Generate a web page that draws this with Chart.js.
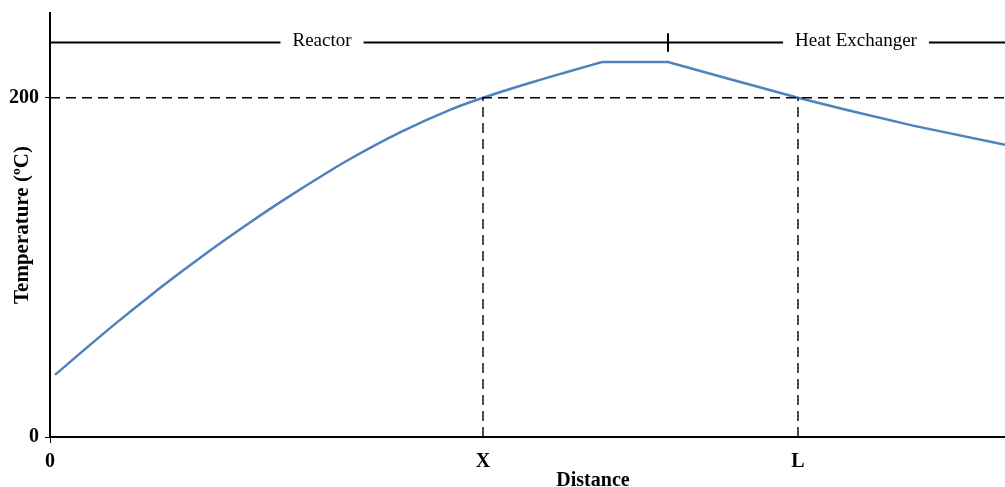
<!DOCTYPE html>
<html>
<head>
<meta charset="utf-8">
<script src="https://cdn.jsdelivr.net/npm/chart.js@4"></script>
<style>
  body { margin: 0; background: #fff; }
  #wrap { width: 1005px; height: 487px; position: relative; }
</style>
</head>
<body>
<div id="wrap"><canvas id="tempChart"></canvas></div>
<script>
// distance (arbitrary units) vs temperature (ºC)
const distance    = [5, 33, 67, 100, 133, 167, 200, 233, 283, 300, 350, 400, 433, 483, 517, 552, 618, 683, 748, 797, 863, 955];
const temperature = [36.6, 50.8, 67.6, 83.2, 98.1, 112.9, 126.5, 139.5, 158.0, 163.9, 179.6, 192.9, 200, 209.3, 215.2, 221.1, 221.1, 210.5, 200, 192.8, 183.6, 172.3];
const peakIndex = 15; // start of the flat top

const xMax = 955;
const yMax = 250;
const xTickValues = [0, 433, 748];
const xTickLabels = ['0', 'X', 'L'];
const yTickValues = [0, 200];
const refTemp = 200;

// section bar along the top
const sectionY = 232.6;
const sectionDivide = 618;
const sectionLabels = ['Reactor', 'Heat Exchanger'];
const sectionCenters = [272, 806];

const serif = '"Liberation Serif", "Times New Roman", serif';

function seg(x1, y1, x2, y2) {
    return [{ x: x1, y: y1 }, { x: x2, y: y2 }];
}

const points = distance.map((d, i) => ({ x: d, y: temperature[i] }));

const dashStyle = { borderColor: '#000', borderWidth: 1.4, borderDash: [10, 6], pointRadius: 0, fill: false, tension: 0 };
const solidStyle = { borderColor: '#000', borderWidth: 2, pointRadius: 0, fill: false, tension: 0 };
const curveStyle = { borderColor: '#4f81bd', borderWidth: 2.5, pointRadius: 0, fill: false };

// texte du haut + titre de l'axe x
const labelsPlugin = {
    id: 'labelsPlugin',
    afterDatasetsDraw(chart) {
        const ctx = chart.ctx;
        const xs = chart.scales.x, ys = chart.scales.y;
        ctx.save();
        ctx.font = '19px ' + serif;
        ctx.textAlign = 'center';
        ctx.textBaseline = 'middle';
        sectionLabels.forEach((txt, i) => {
            const px = xs.getPixelForValue(sectionCenters[i]);
            const py = ys.getPixelForValue(sectionY);
            const w = ctx.measureText(txt).width;
            ctx.fillStyle = '#fff';
            ctx.fillRect(px - w / 2 - 12, py - 6, w + 24, 12);
            ctx.fillStyle = '#000';
            ctx.fillText(txt, px, py - 1);
        });
        ctx.font = 'bold 20px ' + serif;
        ctx.fillText('Distance', 593, 481);
        ctx.restore();
    }
};

const chart = new Chart(document.getElementById('tempChart'), {
    type: 'line',
    data: {
        datasets: [
            Object.assign({ data: seg(0, refTemp, xMax, refTemp) }, dashStyle),
            Object.assign({ data: seg(xTickValues[1], 0, xTickValues[1], refTemp) }, dashStyle),
            Object.assign({ data: seg(xTickValues[2], 0, xTickValues[2], refTemp) }, dashStyle),
            Object.assign({ data: seg(0, sectionY, xMax, sectionY) }, solidStyle),
            Object.assign({ data: seg(sectionDivide, sectionY - 5.5, sectionDivide, sectionY + 5.5) }, solidStyle),
            // rising part smooth, flat top and descent straight
            Object.assign({ data: points.slice(0, peakIndex + 1), cubicInterpolationMode: 'monotone' }, curveStyle),
            Object.assign({ data: points.slice(peakIndex), tension: 0 }, curveStyle)
        ]
    },
    options: {
        responsive: true,
        maintainAspectRatio: false,
        animation: false,
        layout: { padding: { top: 13, right: 0, left: 0, bottom: 0 } },
        plugins: {
            legend: { display: false },
            tooltip: { enabled: false }
        },
        scales: {
            x: {
                type: 'linear',
                min: 0,
                max: xMax,
                afterBuildTicks: (s) => { s.ticks = xTickValues.map(v => ({ value: v })); },
                afterFit: (s) => { s.height = 50; s.paddingLeft = 0; s.paddingRight = 0; },
                ticks: {
                    autoSkip: false,
                    maxRotation: 0,
                    padding: 7,
                    color: '#000',
                    font: { family: serif, size: 20, weight: 'bold' },
                    callback: (v) => {
                        const i = xTickValues.indexOf(v);
                        return i >= 0 ? xTickLabels[i] : '';
                    }
                },
                grid: {
                    drawOnChartArea: false,
                    tickLength: 6,
                    tickColor: (c) => c.index === 0 ? '#000' : 'rgba(0,0,0,0)'
                },
                border: { color: '#000', width: 2 }
            },
            y: {
                min: 0,
                max: yMax,
                afterBuildTicks: (s) => { s.ticks = yTickValues.map(v => ({ value: v })); },
                afterFit: (s) => { s.width = 50; s.paddingTop = 0; s.paddingBottom = 0; },
                ticks: {
                    padding: 6,
                    color: '#000',
                    font: { family: serif, size: 20, weight: 'bold' }
                },
                grid: {
                    drawOnChartArea: false,
                    tickLength: 5,
                    tickColor: '#000'
                },
                border: { color: '#000', width: 2 },
                title: {
                    display: true,
                    text: 'Temperature (ºC)',
                    color: '#000',
                    padding: { top: 10, bottom: 0 },
                    font: { family: serif, size: 21, weight: 'bold' }
                }
            }
        }
    },
    plugins: [labelsPlugin]
});
</script>
</body>
</html>
